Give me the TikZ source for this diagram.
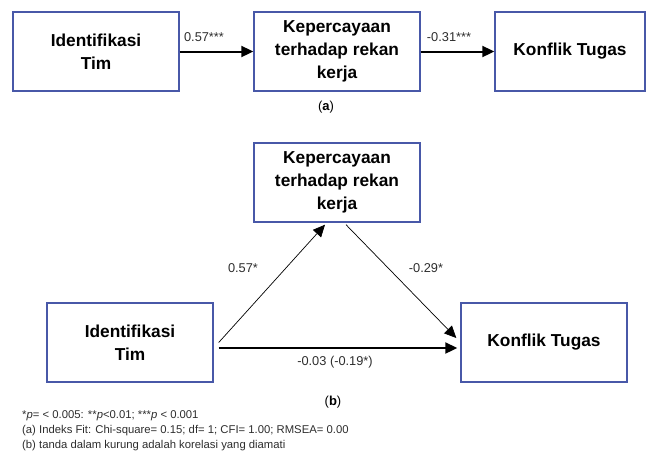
\documentclass[tikz,border=0pt]{standalone}
\usepackage{fontspec}
\setmainfont{Liberation Sans}
\usetikzlibrary{arrows.meta}
\definecolor{boxblue}{RGB}{72,88,168}
\definecolor{labgray}{RGB}{45,45,45}
\begin{document}
\begin{tikzpicture}[x=1pt,y=-1pt,
  var/.style={draw=boxblue,line width=1.4pt,fill=white,align=center,
    inner sep=0pt,font=\bfseries\fontsize{17.3}{23}\selectfont},
  boldarrow/.style={line width=2pt,-{Triangle[length=12pt,width=11pt]}},
  thinarrow/.style={line width=0.7pt,-{Triangle[length=12pt,width=11pt]}},
  coef/.style={text=labgray,font=\fontsize{12.8}{15}\selectfont,inner sep=0pt},
  panel/.style={font=\fontsize{13}{15}\selectfont,inner sep=0pt},
  note/.style={anchor=west,inner sep=0pt,text=labgray,font=\fontsize{11.3}{13}\selectfont}]
\useasboundingbox (0,0) rectangle (647,451);

% Panel (a): simple chain
\node[var,minimum width=166pt,minimum height=79pt] (a1) at (96,51.5) {Identifikasi\\Tim};
\node[var,minimum width=166pt,minimum height=79pt] (a2) at (337,51.5) {Kepercayaan\\terhadap rekan\\kerja};
\node[var,minimum width=150pt,minimum height=79pt] (a3) at (570,51.5) {Konflik Tugas};
\draw[boldarrow] (a1.east) -- (a2.west);
\draw[boldarrow] (a2.east) -- (a3.west);
\node[coef] (ca1) at (204,37) {0.57***};
\node[coef] (ca2) at (449,37) {-0.31***};
\node[panel] (pa) at (326,107) {(\textbf{a})};

% Panel (b): mediation triangle
\node[var,minimum width=166pt,minimum height=79pt] (bm) at (337,182.5) {Kepercayaan\\terhadap rekan\\kerja};
\node[var,minimum width=166pt,minimum height=79pt] (bl) at (130,342.5) {Identifikasi\\Tim};
\node[var,minimum width=166pt,minimum height=79pt] (br) at (544,342.5) {Konflik Tugas};
\draw[thinarrow] ([xshift=5pt]bl.east) -- ([xshift=-12pt,yshift=-2pt]bm.south);
\draw[thinarrow] ([xshift=9pt,yshift=-2pt]bm.south) -- ([xshift=-4pt,yshift=4.5pt]br.west);
\draw[boldarrow] ([xshift=5pt,yshift=-5.5pt]bl.east) -- ([xshift=-3pt,yshift=-5.5pt]br.west);
\node[coef] (cb1) at (243,268) {0.57*};
\node[coef] (cb2) at (426,268) {-0.29*};
\node[coef] (cb3) at (335,362) {-0.03 (-0.19*)};
\node[panel] (pb) at (333,402) {(\textbf{b})};

% Notes
\node[note] (n1) at (22,416) {*\textit{p}= < 0.005: **\textit{p}<0.01; ***\textit{p} < 0.001};
\node[note] (n2) at (22,431) {(a) Indeks Fit: Chi-square= 0.15; df= 1; CFI= 1.00; RMSEA= 0.00};
\node[note] (n3) at (22,446) {(b) tanda dalam kurung adalah korelasi yang diamati};
\end{tikzpicture}
\end{document}
